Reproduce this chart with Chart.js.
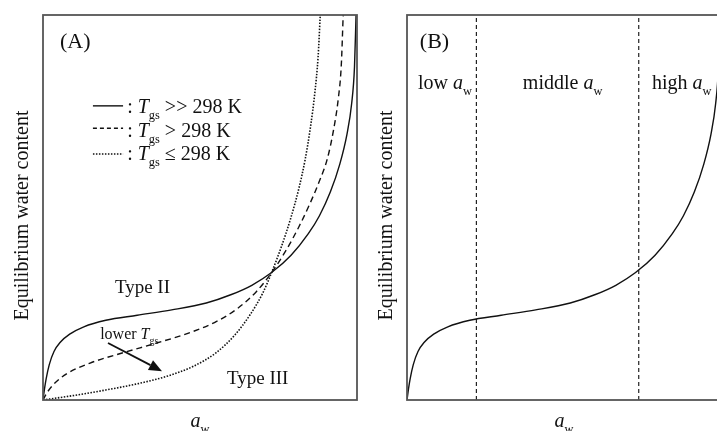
<!DOCTYPE html>
<html>
<head>
<meta charset="utf-8">
<script src="https://cdn.jsdelivr.net/npm/chart.js@4.4.1/dist/chart.umd.min.js"></script>
<style>
  html, body { margin: 0; padding: 0; background: #fff; overflow: hidden; }
  #wrap { position: relative; width: 717px; height: 431px; overflow: hidden; }
  canvas { position: absolute; top: 0; }
  #panelA { left: 0; }
  #panelB { left: 360px; }
</style>
</head>
<body>
<div id="wrap">
  <canvas id="panelA" width="360" height="431"></canvas>
  <canvas id="panelB" width="364" height="431"></canvas>
</div>
<script>
// sorption isotherms, a_w on x and equilibrium water content on y (both scaled 0..1)
// Tgs >> 298 K  (type II)
const awHigh  = [0, 0.005, 0.010, 0.020, 0.035, 0.055, 0.085, 0.130, 0.200, 0.300, 0.410, 0.520, 0.600, 0.665, 0.728, 0.790, 0.845, 0.880, 0.915, 0.945, 0.968, 0.983, 0.992, 0.997];
const ewcHigh = [0, 0.030, 0.055, 0.092, 0.126, 0.150, 0.171, 0.190, 0.207, 0.220, 0.234, 0.252, 0.274, 0.298, 0.331, 0.376, 0.432, 0.478, 0.540, 0.612, 0.690, 0.770, 0.865, 1.0];
// Tgs > 298 K
const awMid  = [0, 0.012, 0.033, 0.075, 0.150, 0.256, 0.362, 0.468, 0.553, 0.620, 0.680, 0.728, 0.775, 0.815, 0.850, 0.880, 0.905, 0.925, 0.940, 0.950, 0.956];
const ewcMid = [0, 0.018, 0.040, 0.068, 0.096, 0.123, 0.148, 0.175, 0.204, 0.238, 0.282, 0.331, 0.390, 0.450, 0.510, 0.568, 0.625, 0.700, 0.780, 0.870, 1.0];
// Tgs <= 298 K  (type III)
const awLow  = [0, 0.100, 0.200, 0.300, 0.400, 0.480, 0.550, 0.610, 0.660, 0.700, 0.728, 0.760, 0.790, 0.815, 0.835, 0.852, 0.866, 0.876, 0.883];
const ewcLow = [0, 0.012, 0.026, 0.042, 0.063, 0.088, 0.122, 0.168, 0.222, 0.278, 0.331, 0.400, 0.475, 0.550, 0.625, 0.710, 0.800, 0.890, 1.0];
// low / middle / high a_w boundaries in panel B
const regionBounds = [0.221, 0.738];

const SERIF = '"Liberation Serif", "Times New Roman", serif';
const INK = '#111';
const DASH = [6, 4];
const DOTS = [1.5, 1.5];

function toPoints(xs, ys) {
    return xs.map((x, i) => ({ x: x, y: ys[i] }));
}

function curve(xs, ys, dash) {
    return {
        data: toPoints(xs, ys),
        showLine: true,
        borderColor: INK,
        borderWidth: dash === DOTS ? 1.6 : 1.4,
        borderDash: dash || [],
        pointRadius: 0,
        cubicInterpolationMode: 'monotone'
    };
}

// text runs with italic / subscript pieces
function drawRich(ctx, x, y, parts, size, align) {
    const segs = parts.map(p => {
        const s = p.sub ? size * 0.62 : size;
        const font = (p.it ? 'italic ' : '') + s + 'px ' + SERIF;
        ctx.font = font;
        return { t: p.t, font: font, w: ctx.measureText(p.t).width, dy: p.sub ? size * 0.3 : 0 };
    });
    const total = segs.reduce((a, s) => a + s.w, 0);
    let cx = align === 'center' ? x - total / 2 : x;
    ctx.textAlign = 'left';
    ctx.textBaseline = 'alphabetic';
    segs.forEach(s => {
        ctx.font = s.font;
        ctx.fillText(s.t, cx, y + s.dy);
        cx += s.w;
    });
}

const AW = [{ t: 'a', it: true }, { t: 'w', sub: true }];
const TGS = [{ t: 'T', it: true }, { t: 'gs', sub: true }];

const sketchPlugin = {
    id: 'sketch',
    afterDatasetsDraw(chart, args, opts) {
        const { ctx, chartArea: a } = chart;
        const sx = chart.scales.x, sy = chart.scales.y;
        const px = v => sx.getPixelForValue(v);
        const py = v => sy.getPixelForValue(v);
        ctx.save();

        ctx.strokeStyle = '#555';
        ctx.lineWidth = 1.8;
        ctx.strokeRect(a.left, a.top, a.right - a.left, a.bottom - a.top);

        ctx.fillStyle = INK;
        (opts.labels || []).forEach(l => {
            drawRich(ctx, px(l.x), py(l.y), l.parts, l.size || 20, l.align);
        });

        (opts.keys || []).forEach(k => {
            ctx.strokeStyle = INK;
            ctx.lineWidth = k.dash === DOTS ? 1.6 : 1.4;
            ctx.setLineDash(k.dash);
            ctx.beginPath();
            ctx.moveTo(px(k.x0), py(k.y));
            ctx.lineTo(px(k.x1), py(k.y));
            ctx.stroke();
            ctx.setLineDash([]);
            drawRich(ctx, px(k.tx), py(k.ty), k.parts, 20);
        });

        (opts.arrows || []).forEach(r => {
            const x0 = px(r.from[0]), y0 = py(r.from[1]);
            const x1 = px(r.to[0]), y1 = py(r.to[1]);
            const ang = Math.atan2(y1 - y0, x1 - x0);
            const len = 13, half = 5.5;
            const bx = x1 - len * Math.cos(ang), by = y1 - len * Math.sin(ang);
            ctx.strokeStyle = INK;
            ctx.lineWidth = 1.8;
            ctx.beginPath();
            ctx.moveTo(x0, y0);
            ctx.lineTo(bx, by);
            ctx.stroke();
            ctx.beginPath();
            ctx.moveTo(x1, y1);
            ctx.lineTo(bx + half * Math.sin(ang), by - half * Math.cos(ang));
            ctx.lineTo(bx - half * Math.sin(ang), by + half * Math.cos(ang));
            ctx.closePath();
            ctx.fill();
        });

        // axis titles
        drawRich(ctx, (a.left + a.right) / 2, a.bottom + 27, AW, 20, 'center');
        ctx.save();
        ctx.translate(a.left - 15, (a.top + a.bottom) / 2 + 8);
        ctx.rotate(-Math.PI / 2);
        drawRich(ctx, 0, 0, [{ t: 'Equilibrium water content' }], 20, 'center');
        ctx.restore();

        ctx.restore();
    }
};

function baseOptions(padding, sketch) {
    return {
        responsive: false,
        animation: false,
        devicePixelRatio: 1,
        layout: { padding: padding },
        plugins: {
            legend: { display: false },
            tooltip: { enabled: false },
            sketch: sketch
        },
        scales: {
            x: { type: 'linear', min: 0, max: 1, display: false },
            y: { type: 'linear', min: 0, max: 1, display: false }
        }
    };
}

new Chart(document.getElementById('panelA'), {
    type: 'scatter',
    data: {
        datasets: [
            curve(awHigh, ewcHigh),
            curve(awMid, ewcMid, DASH),
            curve(awLow, ewcLow, DOTS)
        ]
    },
    options: baseOptions({ left: 43, top: 15, right: 3, bottom: 31 }, {
        labels: [
            { x: 0.054, y: 0.915, parts: [{ t: '(A)' }], size: 22 },
            { x: 0.229, y: 0.278, parts: [{ t: 'Type II' }], size: 19 },
            { x: 0.586, y: 0.042, parts: [{ t: 'Type III' }], size: 19 },
            { x: 0.182, y: 0.158, parts: [{ t: 'lower ' }].concat(TGS), size: 16 }
        ],
        keys: [
            { x0: 0.159, x1: 0.255, y: 0.764, dash: [], tx: 0.268, ty: 0.745, parts: [{ t: ': ' }].concat(TGS, [{ t: ' >> 298 K' }]) },
            { x0: 0.159, x1: 0.255, y: 0.706, dash: [4, 3], tx: 0.268, ty: 0.683, parts: [{ t: ': ' }].concat(TGS, [{ t: ' > 298 K' }]) },
            { x0: 0.159, x1: 0.255, y: 0.639, dash: DOTS, tx: 0.268, ty: 0.623, parts: [{ t: ': ' }].concat(TGS, [{ t: ' \u2264 298 K' }]) }
        ],
        arrows: [
            { from: [0.207, 0.148], to: [0.379, 0.075] }
        ]
    }),
    plugins: [sketchPlugin]
});

new Chart(document.getElementById('panelB'), {
    type: 'scatter',
    data: {
        datasets: [curve(awHigh, ewcHigh)].concat(regionBounds.map(b => ({
            data: [{ x: b, y: 0 }, { x: b, y: 1 }],
            showLine: true,
            borderColor: '#222',
            borderWidth: 1.2,
            borderDash: [4, 3],
            pointRadius: 0
        })))
    },
    options: baseOptions({ left: 47, top: 15, right: 3, bottom: 31 }, {
        labels: [
            { x: 0.041, y: 0.915, parts: [{ t: '(B)' }], size: 22 },
            { x: 0.035, y: 0.808, parts: [{ t: 'low ' }].concat(AW) },
            { x: 0.369, y: 0.808, parts: [{ t: 'middle ' }].concat(AW) },
            { x: 0.780, y: 0.808, parts: [{ t: 'high ' }].concat(AW) }
        ]
    }),
    plugins: [sketchPlugin]
});
</script>
</body>
</html>
